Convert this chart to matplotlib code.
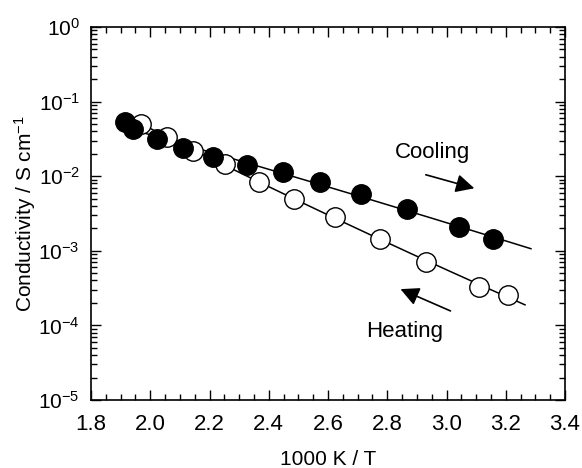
import numpy as np
import matplotlib
matplotlib.use("Agg")
import matplotlib.pyplot as plt
from matplotlib.ticker import MultipleLocator, LogLocator, NullFormatter

FONT = ["Liberation Sans", "DejaVu Sans"]
plt.rcParams["font.family"] = FONT
plt.rcParams["mathtext.fontset"] = "custom"
plt.rcParams["mathtext.rm"] = FONT[0]
plt.rcParams["mathtext.it"] = FONT[0]

# cooling run (filled circles)
cool_x = [1.915, 1.942, 2.023, 2.111, 2.212, 2.327, 2.448, 2.573, 2.711, 2.867, 3.042, 3.157]
cool_s = [0.0533, 0.043, 0.0315, 0.0239, 0.0181, 0.0141, 0.0114, 0.00836, 0.00577,
          0.00363, 0.00208, 0.00144]
cool_end = 3.285

# heating run (open circles)
heat_x = [1.968, 2.056, 2.144, 2.252, 2.367, 2.485, 2.624, 2.776, 2.931, 3.110, 3.208]
heat_s = [0.0505, 0.0335, 0.0219, 0.0146, 0.00836, 0.00494, 0.00284, 0.00144,
          0.000708, 0.000327, 0.000257]
heat_end = 3.265


def fit_line(x, s, x_end, deg=2):
    p = np.polyfit(x, np.log10(s), deg)
    xx = np.linspace(min(x), x_end, 200)
    return xx, 10 ** np.polyval(p, xx)


fig = plt.figure(figsize=(5.82, 4.68), dpi=100)
ax = fig.add_axes([0.1564, 0.1453, 0.8144, 0.797])

xx, yy = fit_line(cool_x, cool_s, cool_end)
ax.plot(xx, yy, color="black", lw=1.1, zorder=2)
xx, yy = fit_line(heat_x, heat_s, heat_end)
ax.plot(xx, yy, color="black", lw=1.1, zorder=2)

ax.plot(heat_x, heat_s, "o", ms=14, mfc="white", mec="black", mew=1.0, zorder=3)
ax.plot(cool_x, cool_s, "o", ms=14, mfc="black", mec="black", mew=1.0, zorder=4)

ax.set_yscale("log")
ax.set_xlim(1.8, 3.4)
ax.set_ylim(1e-5, 1)
ax.xaxis.set_major_locator(MultipleLocator(0.2))
ax.xaxis.set_minor_locator(MultipleLocator(0.05))
ax.xaxis.set_major_formatter(plt.FuncFormatter(lambda v, p: f"{v:.1f}"))
ax.yaxis.set_major_locator(LogLocator(base=10, numticks=10))
ax.yaxis.set_minor_locator(LogLocator(base=10, subs=np.arange(2, 10), numticks=10))
ax.yaxis.set_minor_formatter(NullFormatter())
ax.tick_params(which="both", direction="in", top=True, right=True, labelsize=15, width=1.0)
ax.tick_params(axis="x", labelsize=16)
ax.tick_params(which="major", length=7)
ax.tick_params(which="minor", length=4)
ax.tick_params(axis="x", which="major", pad=10)
ax.tick_params(axis="y", which="major", pad=8)
for sp in ax.spines.values():
    sp.set_linewidth(1.2)

ax.set_xlabel("1000 K / T", fontsize=15, labelpad=11)
ax.set_ylabel("Conductivity / S cm$^{-1}$", fontsize=15, labelpad=0)

ax.text(2.954, 0.0211, "Cooling", fontsize=16, ha="center", va="center")
ax.annotate("", xy=(3.103, 0.00673), xytext=(2.921, 0.0107),
            arrowprops=dict(arrowstyle="-|>", color="black", lw=1.2, mutation_scale=28))
ax.text(2.86, 8.16e-5, "Heating", fontsize=16, ha="center", va="center")
ax.annotate("", xy=(2.836, 3.17e-4), xytext=(3.022, 1.51e-4),
            arrowprops=dict(arrowstyle="-|>", color="black", lw=1.2, mutation_scale=28))

fig.savefig("out.png", dpi=100)
